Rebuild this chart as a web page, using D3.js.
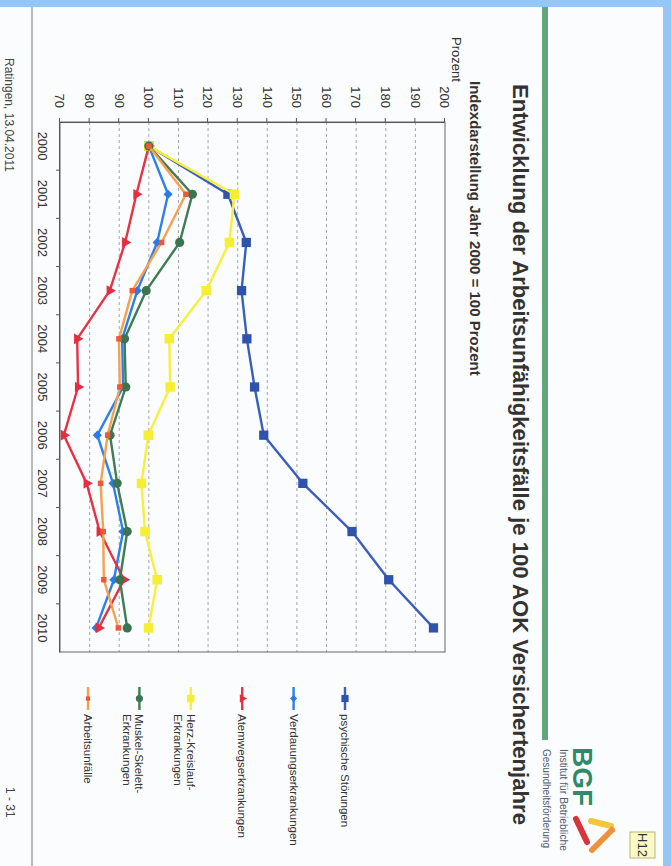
<!DOCTYPE html>
<html>
<head>
<meta charset="utf-8">
<script src="https://cdn.jsdelivr.net/npm/d3@7"></script>
<style>
  html, body { margin: 0; padding: 0; background: #94c6f6; }
  svg { display: block; font-family: "Liberation Sans", Arial, Helvetica, sans-serif; }
</style>
</head>
<body>
<svg id="chart" width="671" height="866"></svg>
<script>
// ---- data: index values, year 2000 = 100 ----
const years = ["2000", "2001", "2002", "2003", "2004", "2005", "2006", "2007", "2008", "2009", "2010"];
const psychischeStoerungen   = [100, 126.7, 132.9, 131.3, 133.1, 135.7, 138.8, 152, 168.6, 181, 196.1];
const verdauung              = [100, 106.5, 102.8, 96.1, 91, 91.3, 82.6, 87.9, 91.3, 88.2, 82.2];
const atemwege               = [100, 95.8, 92, 86.8, 75.8, 76.1, 71.3, 79, 83.4, 91.6, 83.1];
const herzKreislauf          = [100, 128.9, 127.2, 119.4, 106.9, 107.2, 99.8, 97.5, 98.7, 102.8, 99.9];
const muskelSkelett          = [100, 114.7, 110.4, 99.1, 91.8, 92.2, 86.9, 89.3, 92.7, 90.2, 92.7];
const arbeitsunfaelle        = [100, 112.5, 104.3, 94.4, 89.9, 90.2, 86.1, 83.7, 84.6, 84.8, 89.7];
const seriesLabels = [
  ["psychische Störungen"],
  ["Verdauungserkrankungen"],
  ["Atemwegserkrankungen"],
  ["Herz-Kreislauf-", "Erkrankungen"],
  ["Muskel-Skelett-", "Erkrankungen"],
  ["Arbeitsunfälle"]
];
const valueTicks = [70, 80, 90, 100, 110, 120, 130, 140, 150, 160, 170, 180, 190, 200];

// ---- series styling ----
const seriesStyle = [
  { line: "#3a5fba", fill: "#2f52ad", shape: "square", size: 86 },
  { line: "#2d80e8", fill: "#2a7be6", shape: "diamond", size: 42 },
  { line: "#e63246", fill: "#e62d40", shape: "triangle", size: 50 },
  { line: "#f7f03a", fill: "#f6ee30", shape: "square", size: 90 },
  { line: "#3f7b54", fill: "#3b7450", shape: "circle", size: 66 },
  { line: "#f6a14e", fill: "#ec583a", shape: "square", size: 30 }
];
const seriesValues = [psychischeStoerungen, verdauung, atemwege, herzKreislauf, muskelSkelett, arbeitsunfaelle];

const series = seriesValues.map((vals, i) => ({
  label: seriesLabels[i],
  style: seriesStyle[i],
  points: years.map((yr, j) => ({ year: yr, value: vals[j] }))
}));

function symbolPath(shape, size) {
  if (shape === "diamond") return d3.symbol().type(d3.symbolSquare).size(size)();
  const t = { square: d3.symbolSquare, triangle: d3.symbolTriangle, circle: d3.symbolCircle }[shape];
  return d3.symbol().type(t).size(size)();
}
const shapeRotate = s => s === "diamond" ? " rotate(45)" : "";

const svg = d3.select("#chart");
svg.append("rect").attr("width", 671).attr("height", 866).attr("fill", "#94c6f6");

// the slide is drawn upright and turned a quarter turn clockwise
const page = svg.append("g").attr("transform", "translate(671,0) rotate(90)");
page.append("rect").attr("x", 7).attr("y", 8).attr("width", 859).attr("height", 663).attr("fill", "#fbfcfd");

// header band
page.append("rect").attr("x", 7).attr("y", 123).attr("width", 733).attr("height", 6).attr("fill", "#63a57c");

page.append("text")
  .attr("x", 84).attr("y", 158)
  .attr("font-size", 22).attr("font-weight", "bold").attr("fill", "#333")
  .attr("textLength", 741).attr("lengthAdjust", "spacingAndGlyphs")
  .text("Entwicklung der Arbeitsunfähigkeitsfälle je 100 AOK Versichertenjahre");

page.append("text")
  .attr("x", 81).attr("y", 201)
  .attr("font-size", 15).attr("font-weight", "bold").attr("fill", "#333")
  .text("Indexdarstellung Jahr 2000 = 100 Prozent");

page.append("text")
  .attr("x", 37).attr("y", 219)
  .attr("font-size", 13).attr("fill", "#333")
  .text("Prozent");

// logo
page.append("text").attr("x", 747).attr("y", 98)
  .attr("font-size", 28).attr("font-weight", "bold").attr("fill", "#2e8a68")
  .text("BGF");
page.append("text").attr("x", 749).attr("y", 111)
  .attr("font-size", 10).attr("fill", "#4d5a72")
  .attr("textLength", 102).attr("lengthAdjust", "spacingAndGlyphs")
  .text("Institut für Betriebliche");
page.append("text").attr("x", 749).attr("y", 128)
  .attr("font-size", 10).attr("fill", "#4d5a72")
  .attr("textLength", 99).attr("lengthAdjust", "spacingAndGlyphs")
  .text("Gesundheitsförderung");

const logo = page.append("g").attr("stroke-width", 6).attr("stroke-linecap", "round").attr("fill", "none");
logo.append("path").attr("d", "M819,95 L842,84").attr("stroke", "#d8343a");
logo.append("path").attr("d", "M821,80 L826,60").attr("stroke", "#f3c63c");
logo.append("path").attr("d", "M830,59 L850,79").attr("stroke", "#ee903e");

page.append("rect").attr("x", 832).attr("y", 16).attr("width", 26).attr("height", 25)
  .attr("fill", "#fbf9c4").attr("stroke", "#b9b67a").attr("stroke-width", 1);
page.append("text").attr("x", 845).attr("y", 33).attr("text-anchor", "middle")
  .attr("font-size", 13).attr("fill", "#333").text("H12");

// footer
page.append("line").attr("x1", 7).attr("x2", 866).attr("y1", 639).attr("y2", 639)
  .attr("stroke", "#777").attr("stroke-width", 1);
page.append("text").attr("x", 58).attr("y", 666).attr("font-size", 12).attr("fill", "#444")
  .text("Ratingen, 13.04.2011");
page.append("text").attr("x", 787).attr("y", 665).attr("font-size", 12).attr("fill", "#444")
  .text("1 - 31");

// ---- plot ----
const x = d3.scaleBand().domain(years).range([122, 652]);
const y = d3.scaleLinear().domain([70, 200]).range([611, 226]);
const cx = d => x(d) + x.bandwidth() / 2;

const plot = page.append("g");

plot.selectAll("line.grid")
  .data(valueTicks.filter(v => v > 70 && v < 200))
  .join("line")
  .attr("class", "grid")
  .attr("x1", 122).attr("x2", 652)
  .attr("y1", d => y(d)).attr("y2", d => y(d))
  .attr("stroke", "#8f8f8f").attr("stroke-width", 0.8).attr("stroke-dasharray", "3,3");

plot.append("rect")
  .attr("x", 122).attr("y", y(200)).attr("width", 530).attr("height", y(70) - y(200))
  .attr("fill", "none").attr("stroke", "#666").attr("stroke-width", 1);

const yAxis = plot.append("g").attr("transform", "translate(122,0)")
  .call(d3.axisLeft(y).tickValues(valueTicks).tickSize(4).tickSizeOuter(0).tickPadding(10));
const xAxis = plot.append("g").attr("transform", "translate(0,611)")
  .call(d3.axisBottom(x).tickSize(0).tickPadding(13));
[yAxis, xAxis].forEach(a => {
  a.select(".domain").attr("stroke", "#555");
  a.selectAll(".tick line").attr("stroke", "#555");
  a.selectAll("text").attr("font-size", 13).attr("fill", "#333")
    .attr("font-family", "\"Liberation Sans\", Arial, sans-serif");
});

// category boundary ticks on the year axis
plot.selectAll("line.ytick")
  .data(years.slice(1))
  .join("line")
  .attr("class", "ytick")
  .attr("x1", d => x(d)).attr("x2", d => x(d))
  .attr("y1", 611).attr("y2", 615)
  .attr("stroke", "#555");

const line = d3.line().x(d => cx(d.year)).y(d => y(d.value));

const sg = plot.selectAll("g.series").data(series).join("g").attr("class", "series");
sg.append("path")
  .attr("d", d => line(d.points))
  .attr("fill", "none")
  .attr("stroke", d => d.style.line)
  .attr("stroke-width", 2.4)
  .attr("stroke-linejoin", "round");
sg.each(function (s) {
  d3.select(this).selectAll("path.mark")
    .data(s.points)
    .join("path")
    .attr("class", "mark")
    .attr("d", symbolPath(s.style.shape, s.style.size))
    .attr("transform", d => `translate(${cx(d.year)},${y(d.value)})${shapeRotate(s.style.shape)}`)
    .attr("fill", s.style.fill);
});

// ---- legend ----
const legendY = d3.scalePoint().domain(d3.range(series.length)).range([326, 583]);
const lg = page.selectAll("g.legend").data(series).join("g")
  .attr("class", "legend")
  .attr("transform", (d, i) => `translate(0,${legendY(i)})`);
lg.append("line")
  .attr("x1", 687).attr("x2", 710).attr("y1", 0).attr("y2", 0)
  .attr("stroke", d => d.style.line).attr("stroke-width", 2.4);
lg.append("path")
  .attr("d", d => symbolPath(d.style.shape, d.style.size * 0.6))
  .attr("transform", d => `translate(698.5,0)${shapeRotate(d.style.shape)}`)
  .attr("fill", d => d.style.fill);
lg.append("text")
  .attr("x", 714).attr("y", 4)
  .attr("font-size", 11.5).attr("fill", "#333")
  .selectAll("tspan").data(d => d.label).join("tspan")
  .attr("x", 714).attr("dy", (t, i) => i === 0 ? 0 : 12.5)
  .text(t => t);
</script>
</body>
</html>
